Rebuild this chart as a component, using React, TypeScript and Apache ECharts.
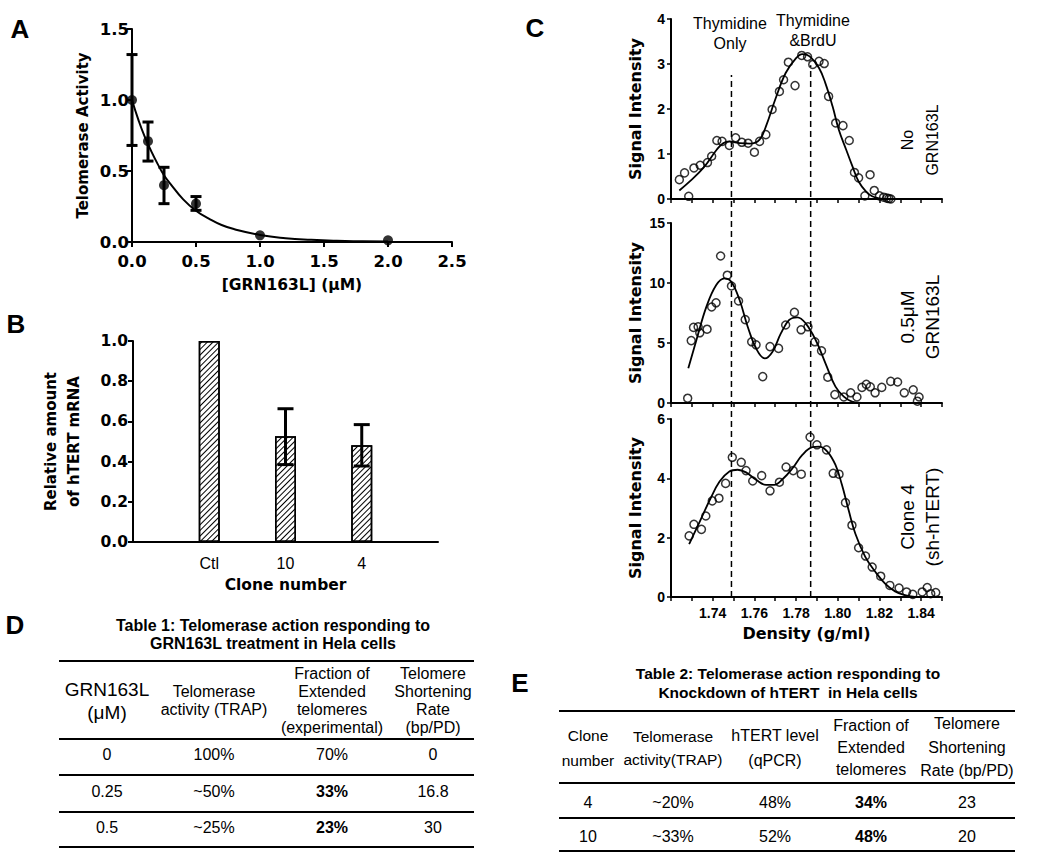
import React, { useEffect, useRef } from "react";
import * as echarts from "echarts";

// ---------------- Panel A: telomerase activity vs GRN163L dose ----------------
const doseX = [0, 0.125, 0.25, 0.5, 1.0, 2.0];
const activityMean = [1.0, 0.71, 0.40, 0.27, 0.047, 0.012];
const activityLow = [0.68, 0.57, 0.27, 0.223, null, null];
const activityHigh = [1.32, 0.845, 0.526, 0.32, null, null];
const fitX = [0, 0.05, 0.1, 0.15, 0.2, 0.25, 0.3, 0.4, 0.5, 0.6, 0.7, 0.8, 1.0, 1.2, 1.4, 1.6, 1.8, 2.0];
const fitY = [1.0, 0.86, 0.74, 0.64, 0.55, 0.47, 0.41, 0.3, 0.22, 0.165, 0.12, 0.09, 0.05, 0.027, 0.015, 0.008, 0.005, 0.003];

// ---------------- Panel B: relative hTERT mRNA ----------------
const cloneCategories = ["Ctl", "10", "4"];
const mrnaMean = [1.0, 0.526, 0.481];
const mrnaLow = [null, 0.385, 0.378];
const mrnaHigh = [null, 0.663, 0.584];

// ---------------- Panel C: CsCl density profiles ----------------
const noDrugPoints = [
  [1.724, 0.43], [1.7265, 0.58], [1.7285, 0.06], [1.731, 0.69], [1.734, 0.75], [1.7375, 0.81],
  [1.7395, 0.95], [1.742, 1.3], [1.7445, 1.28], [1.748, 1.19], [1.751, 1.36], [1.754, 1.26],
  [1.757, 1.24], [1.76, 1.04], [1.7625, 1.28], [1.7655, 1.43], [1.7685, 1.99], [1.772, 2.39],
  [1.774, 2.65], [1.7763, 3.04], [1.7795, 2.52], [1.7827, 3.19], [1.7855, 3.16], [1.788, 2.99],
  [1.791, 3.06], [1.7935, 3.01], [1.7956, 2.28], [1.799, 1.69], [1.8025, 1.63], [1.8055, 1.3],
  [1.808, 0.59], [1.81, 0.47], [1.813, 0.07], [1.8155, 0.54], [1.8175, 0.19], [1.82, 0.07],
  [1.822, 0.04], [1.8235, 0.02], [1.8245, 0.01], [1.8255, 0.0],
];
const noDrugFit = [
  [1.724, 0.19], [1.729, 0.39], [1.7355, 0.69], [1.742, 1.1], [1.745, 1.24], [1.748, 1.28],
  [1.753, 1.24], [1.758, 1.23], [1.7625, 1.32], [1.7655, 1.61], [1.77, 2.21], [1.775, 2.8],
  [1.78, 3.13], [1.783, 3.22], [1.7865, 3.17], [1.791, 2.91], [1.794, 2.58], [1.7975, 2.06],
  [1.8005, 1.54], [1.804, 1.1], [1.807, 0.73], [1.81, 0.39], [1.8135, 0.17], [1.8165, 0.06],
  [1.82, 0.015], [1.8235, 0.0],
];
const halfMicroPoints = [
  [1.728, 0.4], [1.7297, 5.2], [1.7308, 6.3], [1.733, 6.35], [1.7338, 5.85], [1.7373, 6.15],
  [1.7395, 8.0], [1.7416, 8.35], [1.7438, 12.25], [1.747, 10.65], [1.749, 9.75], [1.7524, 8.5],
  [1.7556, 6.95], [1.7587, 5.1], [1.7608, 4.85], [1.764, 2.2], [1.7675, 4.7], [1.7716, 4.55],
  [1.775, 6.5], [1.7792, 7.55], [1.7824, 6.1], [1.7857, 6.35], [1.789, 5.1], [1.7922, 4.35],
  [1.7952, 2.15], [1.7986, 0.7], [1.8029, 0.5], [1.8062, 0.85], [1.8092, 0.5], [1.8116, 1.3],
  [1.8137, 1.55], [1.8156, 1.35], [1.8179, 0.85], [1.8211, 1.3], [1.8254, 1.8], [1.8287, 1.75],
  [1.8319, 0.85], [1.8362, 1.1], [1.839, 0.5], [1.8382, 0.15],
];
const halfMicroFit = [
  [1.7283, 2.89], [1.7322, 5.25], [1.737, 8.03], [1.7417, 9.83], [1.7457, 10.39], [1.7489, 10.11],
  [1.7529, 8.58], [1.7568, 6.36], [1.7608, 4.56], [1.765, 3.72], [1.7687, 4.28], [1.7727, 5.8],
  [1.7767, 6.92], [1.7806, 7.14], [1.7846, 6.64], [1.7894, 5.25], [1.7941, 3.31], [1.7989, 1.36],
  [1.8029, 0.53], [1.8068, 0.11], [1.8116, 0.0],
];
const clone4Points = [
  [1.7287, 2.06], [1.731, 2.45], [1.7346, 2.28], [1.7367, 2.73], [1.7398, 3.24], [1.743, 3.33],
  [1.7462, 3.83], [1.7494, 4.71], [1.7537, 4.54], [1.756, 4.26], [1.7592, 3.91], [1.7635, 4.09],
  [1.7675, 3.58], [1.772, 3.87], [1.7752, 4.38], [1.7786, 4.26], [1.7825, 4.14], [1.7867, 5.39],
  [1.79, 5.13], [1.7946, 4.96], [1.7978, 4.17], [1.8006, 4.14], [1.8037, 3.18], [1.8068, 2.42],
  [1.81, 1.66], [1.8133, 1.38], [1.8165, 1.01], [1.8206, 0.7], [1.825, 0.39], [1.8294, 0.3],
  [1.833, 0.17], [1.836, 0.09], [1.8405, 0.17], [1.8429, 0.32], [1.8446, 0.11], [1.847, 0.15],
];
const clone4Fit = [
  [1.7287, 1.78], [1.7338, 2.54], [1.7386, 3.27], [1.7433, 3.89], [1.748, 4.23], [1.752, 4.29],
  [1.756, 4.2], [1.7608, 3.95], [1.7656, 3.78], [1.7695, 3.78], [1.7735, 3.97], [1.7783, 4.34],
  [1.783, 4.79], [1.7878, 5.05], [1.791, 5.07], [1.7949, 4.91], [1.7989, 4.45], [1.802, 3.78],
  [1.8052, 2.93], [1.8084, 2.14], [1.8132, 1.35], [1.818, 0.85], [1.8227, 0.45], [1.8275, 0.19],
  [1.8322, 0.06], [1.837, 0.0],
];
// dashed reference densities (thymidine only, thymidine & BrdU) and their top (fraction of stack height)
const referenceDensities = [1.749, 1.787];
const referenceTops = [0.903, 0.92];

// ---------------- Tables ----------------
const table1Title = ["Table 1: Telomerase action responding to", "GRN163L treatment in Hela cells"];
const table1Headers = [
  ["GRN163L", "(μM)"],
  ["Telomerase", "activity (TRAP)"],
  ["Fraction of", "Extended", "telomeres", "(experimental)"],
  ["Telomere", "Shortening", "Rate", "(bp/PD)"],
];
const table1Rows = [
  ["0", "100%", "70%", "0"],
  ["0.25", "~50%", "33%", "16.8"],
  ["0.5", "~25%", "23%", "30"],
];
const table2Title = ["Table 2: Telomerase action responding to", "Knockdown of hTERT  in Hela cells"];
const table2Headers = [
  ["Clone", "number"],
  ["Telomerase", "activity(TRAP)"],
  ["hTERT level", "(qPCR)"],
  ["Fraction of", "Extended", "telomeres"],
  ["Telomere", "Shortening", "Rate (bp/PD)"],
];
const table2Rows = [
  ["4", "~20%", "48%", "34%", "23"],
  ["10", "~33%", "52%", "48%", "20"],
];

// ---------------- layout / style constants ----------------
const AX_FONT = "'DejaVu Sans', sans-serif";
const TXT_FONT = "'Liberation Sans', Arial, sans-serif";
const NARROW_FONT = "'Liberation Sans Narrow', 'Liberation Sans', Arial, sans-serif";

const T1 = {
  colX: [107, 214, 332, 433],
  left: 59,
  right: 474,
  rules: [661, 739, 775, 812, 847],
  titleX: 273,
  titleY: [625, 643],
  headerY: [701, 700, 700, 700],
  headerLH: [23, 18, 18, 18],
  headerSize: [19, 16, 16, 16],
  rowY: [754, 791, 827],
  boldCol: 2,
  boldRows: [1, 2],
  size: 16,
  titleSize: 16,
};
const T2 = {
  colX: [588, 673, 775, 871, 967],
  left: 559,
  right: 1015,
  rules: [711, 783, 818, 851],
  titleX: 788,
  titleY: [673, 692],
  headerY: [748, 748, 748, 747, 747],
  headerLH: [25, 23, 25, 22, 23.5],
  headerSize: [15.5, 15.5, 16, 16, 16],
  rowY: [802, 836],
  boldCol: 3,
  boldRows: [0, 1],
  size: 16,
  titleSize: 15.5,
};

function font(size: number, bold = false) {
  return `${bold ? "bold " : ""}${size}px ${TXT_FONT}`;
}

function txt(text: string, x: number, y: number, f: string, lineHeight?: number, extra: any = {}) {
  return {
    type: "text",
    x,
    y,
    silent: true,
    ...extra,
    style: {
      text,
      fill: "#000",
      font: f,
      textAlign: "center",
      align: "center",
      textVerticalAlign: "middle",
      verticalAlign: "middle",
      lineHeight,
    },
  };
}

function hline(x1: number, x2: number, y: number, w = 2) {
  return {
    type: "line",
    silent: true,
    shape: { x1, y1: y, x2, y2: y },
    style: { stroke: "#000", lineWidth: w },
  };
}

function buildTable(T: any, title: string[], headers: string[][], rows: string[][]) {
  const els: any[] = [];
  title.forEach((t, i) => els.push(txt(t, T.titleX, T.titleY[i], font(T.titleSize, true))));
  T.rules.forEach((y: number) => els.push(hline(T.left, T.right, y)));
  headers.forEach((h, c) =>
    els.push(txt(h.join("\n"), T.colX[c], T.headerY[c], font(T.headerSize[c]), T.headerLH[c]))
  );
  rows.forEach((r, ri) =>
    r.forEach((cell, c) => {
      const bold = c === T.boldCol && T.boldRows.includes(ri);
      els.push(txt(cell, T.colX[c], T.rowY[ri], font(T.size, bold)));
    })
  );
  return els;
}

const axisLineStyle = { show: true, lineStyle: { color: "#000", width: 2 } };
const axisTickStyle = { show: true, length: 5, lineStyle: { color: "#000", width: 2 } };
const boldAxisLabel = (size: number, extra: any = {}) => ({
  color: "#000",
  fontFamily: AX_FONT,
  fontWeight: "bold",
  fontSize: size,
  ...extra,
});

function errorBarRenderer(capHalf: number, lw: number) {
  return (params: any, api: any) => {
    const x = api.value(0);
    const lo = api.coord([x, api.value(1)]);
    const hi = api.coord([x, api.value(2)]);
    const st = { stroke: "#000", lineWidth: lw };
    return {
      type: "group",
      children: [
        { type: "line", shape: { x1: lo[0], y1: lo[1], x2: hi[0], y2: hi[1] }, style: st },
        { type: "line", shape: { x1: hi[0] - capHalf, y1: hi[1], x2: hi[0] + capHalf, y2: hi[1] }, style: st },
        { type: "line", shape: { x1: lo[0] - capHalf, y1: lo[1], x2: lo[0] + capHalf, y2: lo[1] }, style: st },
      ],
    };
  };
}

function densityLabel(v: number) {
  const k = Math.round(v * 100);
  return k % 2 === 0 && k >= 174 && k <= 184 ? (k / 100).toFixed(2) : "";
}

function buildOption(): any {
  const C_LEFT = 671;
  const C_WIDTH = 271;
  const cGrids = [
    { left: C_LEFT, top: 19, width: C_WIDTH, height: 180 },
    { left: C_LEFT, top: 223, width: C_WIDTH, height: 180 },
    { left: C_LEFT, top: 419, width: C_WIDTH, height: 178 },
  ];
  const cYMax = [4, 15, 6];
  const cYInterval = [1, 5, 2];
  const cPoints = [noDrugPoints, halfMicroPoints, clone4Points];
  const cFits = [noDrugFit, halfMicroFit, clone4Fit];

  const grid: any[] = [
    { left: 132, top: 29, width: 320, height: 213 },
    { left: 133, top: 341, width: 305, height: 201 },
    ...cGrids,
    { left: C_LEFT, top: 19, width: C_WIDTH, height: 578 },
  ];

  const xAxis: any[] = [
    {
      gridIndex: 0,
      type: "value",
      min: 0,
      max: 2.5,
      interval: 0.5,
      axisLine: axisLineStyle,
      axisTick: axisTickStyle,
      splitLine: { show: false },
      axisLabel: boldAxisLabel(16.5, { margin: 11, formatter: (v: number) => v.toFixed(1) }),
      name: "[GRN163L] (μM)",
      nameLocation: "middle",
      nameGap: 35,
      nameTextStyle: boldAxisLabel(15.5),
    },
    {
      gridIndex: 1,
      type: "category",
      data: ["", ...cloneCategories, ""],
      boundaryGap: false,
      axisLine: axisLineStyle,
      axisTick: { show: false },
      splitLine: { show: false },
      axisLabel: { color: "#000", fontFamily: TXT_FONT, fontSize: 16, margin: 13, interval: 0 },
      name: "Clone number",
      nameLocation: "middle",
      nameGap: 35,
      nameTextStyle: boldAxisLabel(15.5),
    },
    ...cGrids.map((g, i) => ({
      gridIndex: i + 2,
      type: "value",
      min: 1.72,
      max: 1.85,
      interval: 0.01,
      axisLine: axisLineStyle,
      axisTick: { show: true, length: 4, lineStyle: { color: "#000", width: 1.5 } },
      splitLine: { show: false },
      axisLabel:
        i === 2
          ? { color: "#000", fontFamily: NARROW_FONT, fontWeight: "bold", fontSize: 14, margin: 9, formatter: densityLabel }
          : { show: false },
      name: i === 2 ? "Density (g/ml)" : "",
      nameLocation: "middle",
      nameGap: 28,
      nameTextStyle: boldAxisLabel(16),
    })),
    { gridIndex: 5, type: "value", min: 1.72, max: 1.85, show: false },
  ];

  const yAxis: any[] = [
    {
      gridIndex: 0,
      type: "value",
      min: 0,
      max: 1.5,
      interval: 0.5,
      axisLine: axisLineStyle,
      axisTick: axisTickStyle,
      splitLine: { show: false },
      axisLabel: boldAxisLabel(16.5, { margin: 3, formatter: (v: number) => v.toFixed(1) }),
      name: "Telomerase Activity",
      nameLocation: "middle",
      nameGap: 42,
      nameTextStyle: boldAxisLabel(15),
    },
    {
      gridIndex: 1,
      type: "value",
      min: 0,
      max: 1,
      interval: 0.2,
      axisLine: axisLineStyle,
      axisTick: axisTickStyle,
      splitLine: { show: false },
      axisLabel: boldAxisLabel(15.5, { margin: 5, formatter: (v: number) => v.toFixed(1) }),
      name: "Relative amount\nof hTERT mRNA",
      nameLocation: "middle",
      nameGap: 48,
      nameTextStyle: boldAxisLabel(15, { lineHeight: 23 }),
    },
    ...cGrids.map((g, i) => ({
      gridIndex: i + 2,
      type: "value",
      min: 0,
      max: cYMax[i],
      interval: cYInterval[i],
      axisLine: axisLineStyle,
      axisTick: { show: true, length: 4, lineStyle: { color: "#000", width: 1.5 } },
      splitLine: { show: false },
      axisLabel: { color: "#000", fontFamily: NARROW_FONT, fontWeight: "bold", fontSize: 14, margin: 6 },
      name: "Signal Intensity",
      nameLocation: "middle",
      nameGap: 28,
      nameTextStyle: boldAxisLabel(16),
    })),
    { gridIndex: 5, type: "value", min: 0, max: 1, show: false },
  ];

  const series: any[] = [];

  // Panel A
  series.push({
    type: "line",
    xAxisIndex: 0,
    yAxisIndex: 0,
    data: fitX.map((x, i) => [x, fitY[i]]),
    smooth: true,
    showSymbol: false,
    symbol: "none",
    lineStyle: { color: "#000", width: 2 },
    z: 2,
  });
  series.push({
    type: "custom",
    xAxisIndex: 0,
    yAxisIndex: 0,
    data: doseX
      .map((x, i) => [x, activityLow[i], activityHigh[i]])
      .filter((d) => d[1] !== null),
    encode: { x: 0, y: [1, 2] },
    renderItem: errorBarRenderer(5.5, 3),
    z: 3,
  });
  series.push({
    type: "scatter",
    xAxisIndex: 0,
    yAxisIndex: 0,
    data: doseX.map((x, i) => [x, activityMean[i]]),
    symbol: "circle",
    symbolSize: 10,
    itemStyle: { color: "#000" },
    z: 4,
  });

  // Panel B
  series.push({
    type: "bar",
    xAxisIndex: 1,
    yAxisIndex: 1,
    data: ["-", ...mrnaMean, "-"],
    barWidth: 21,
    itemStyle: {
      color: "#fff",
      borderColor: "#000",
      borderWidth: 1.5,
      decal: {
        symbol: "rect",
        symbolSize: 1,
        color: "#000",
        backgroundColor: "#fff",
        dashArrayX: [1, 0],
        dashArrayY: [1, 3],
        rotation: -Math.PI / 4,
      },
    },
    z: 2,
  });
  series.push({
    type: "custom",
    xAxisIndex: 1,
    yAxisIndex: 1,
    data: cloneCategories
      .map((c, i) => [i + 1, mrnaLow[i], mrnaHigh[i]])
      .filter((d) => d[1] !== null),
    encode: { x: 0, y: [1, 2] },
    renderItem: errorBarRenderer(8, 3),
    z: 3,
  });

  // Panel C
  cGrids.forEach((g, i) => {
    series.push({
      type: "line",
      xAxisIndex: i + 2,
      yAxisIndex: i + 2,
      data: cFits[i],
      smooth: 0.4,
      showSymbol: false,
      symbol: "none",
      lineStyle: { color: "#000", width: 1.8 },
      z: 2,
    });
    series.push({
      type: "scatter",
      xAxisIndex: i + 2,
      yAxisIndex: i + 2,
      data: cPoints[i],
      symbol: "circle",
      symbolSize: 8,
      itemStyle: { color: "rgba(0,0,0,0)", borderColor: "#000", borderWidth: 1.5 },
      z: 3,
    });
  });
  referenceDensities.forEach((d, i) => {
    series.push({
      type: "line",
      xAxisIndex: 5,
      yAxisIndex: 5,
      data: [
        [d, 0],
        [d, referenceTops[i]],
      ],
      showSymbol: false,
      symbol: "none",
      lineStyle: { color: "#000", width: 1.5, type: [6, 4] },
      z: 4,
    });
  });

  // Graphics: panel letters, annotations, tables
  const letterFont = font(26, true);
  const graphics: any[] = [
    txt("A", 20, 29, letterFont),
    txt("B", 16, 324, letterFont),
    txt("C", 535, 28, letterFont),
    txt("D", 15, 625, letterFont),
    txt("E", 520, 683, letterFont),
    txt("Thymidine\nOnly", 730, 33, font(16), 20),
    txt("Thymidine\n&BrdU", 813, 30, font(16), 20),
    txt("No\nGRN163L", 920, 140, font(16), 25, { rotation: Math.PI / 2 }),
    txt("0.5μM\nGRN163L", 920, 317, font(19), 25, { rotation: Math.PI / 2 }),
    txt("Clone 4\n(sh-hTERT)", 920, 517, font(19), 25, { rotation: Math.PI / 2 }),
    ...buildTable(T1, table1Title, table1Headers, table1Rows),
    ...buildTable(T2, table2Title, table2Headers, table2Rows),
  ];

  return {
    animation: false,
    backgroundColor: "#fff",
    grid,
    xAxis,
    yAxis,
    series,
    graphic: graphics,
  };
}

export default function App() {
  const ref = useRef<HTMLDivElement>(null);
  useEffect(() => {
    document.body.style.margin = "0";
    const chart = echarts.init(ref.current!, undefined, { renderer: "svg" });
    chart.setOption(buildOption());
    return () => chart.dispose();
  }, []);
  return <div ref={ref} style={{ width: 1050, height: 859, background: "#fff" }} />;
}
